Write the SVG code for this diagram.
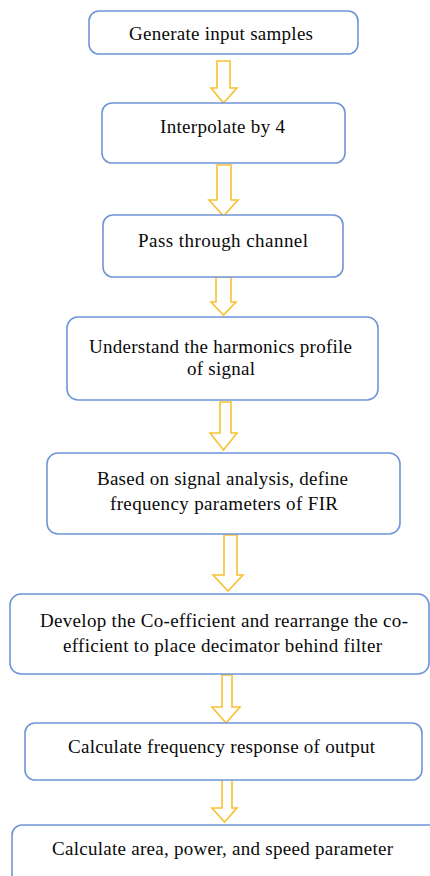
<svg xmlns="http://www.w3.org/2000/svg" width="430" height="876" viewBox="0 0 430 876">
<style>
.box{fill:#ffffff;stroke:#6f95d8;stroke-width:1.6}
.arr{fill:#ffffff;stroke:#f8c130;stroke-width:1.6;stroke-linejoin:miter}
.t{font-family:'Liberation Serif','Times New Roman',serif;font-size:19px;fill:#0a0a0a;text-anchor:middle}
</style>
<rect width="430" height="876" fill="#ffffff"/>
<g id="connectors">
<path class="arr" d="M217,61 H230 V88 H237 L223.5,103 L211,88 H217 Z"/>
<path class="arr" d="M217,165 H231 V200 H238 L223.5,216 L209,200 H217 Z"/>
<path class="arr" d="M216,277 H231 V302 H236 L223.5,315 L211,302 H216 Z"/>
<path class="arr" d="M220,402 H231 V433 H237 L223.5,450 L210,433 H220 Z"/>
<path class="arr" d="M224,535 H237 V575 H243 L228,591 L213,575 H224 Z"/>
<path class="arr" d="M222,675 H232 V707 H240 L226,723 L212,707 H222 Z"/>
<path class="arr" d="M222,779 H232 V808 H237 L224.5,822 L212,808 H222 Z"/>
</g>
<g id="n1"><rect class="box" x="89" y="11" width="269" height="43" rx="10"/><text class="t" x="221" y="40" textLength="184">Generate input samples</text></g>
<g id="n2"><rect class="box" x="102" y="103" width="243" height="60" rx="10"/><text class="t" x="222.5" y="133" textLength="125">Interpolate by 4</text></g>
<g id="n3"><rect class="box" x="103" y="215" width="240" height="62" rx="10"/><text class="t" x="223" y="247" textLength="170">Pass through channel</text></g>
<g id="n4"><rect class="box" x="67" y="317" width="311" height="83" rx="11"/><text class="t" x="220.5" y="353" textLength="263">Understand the harmonics profile</text><text class="t" x="221" y="375" textLength="68">of signal</text></g>
<g id="n5"><rect class="box" x="47" y="453" width="353" height="81" rx="11"/><text class="t" x="222.5" y="485" textLength="251">Based on signal analysis, define</text><text class="t" x="224" y="510" textLength="228">frequency parameters of FIR</text></g>
<g id="n6"><rect class="box" x="10" y="594" width="419" height="80" rx="11"/><text class="t" x="224" y="627" textLength="368">Develop the Co-efficient and rearrange the co-</text><text class="t" x="222.5" y="652" textLength="319">efficient to place decimator behind filter</text></g>
<g id="n7"><rect class="box" x="25" y="723" width="397" height="57" rx="10"/><text class="t" x="221.5" y="753" textLength="307">Calculate frequency response of output</text></g>
<g id="n8"><rect class="box" x="12" y="825" width="430" height="70" rx="10"/><text class="t" x="222.5" y="855" textLength="341">Calculate area, power, and speed parameter</text></g>
</svg>
